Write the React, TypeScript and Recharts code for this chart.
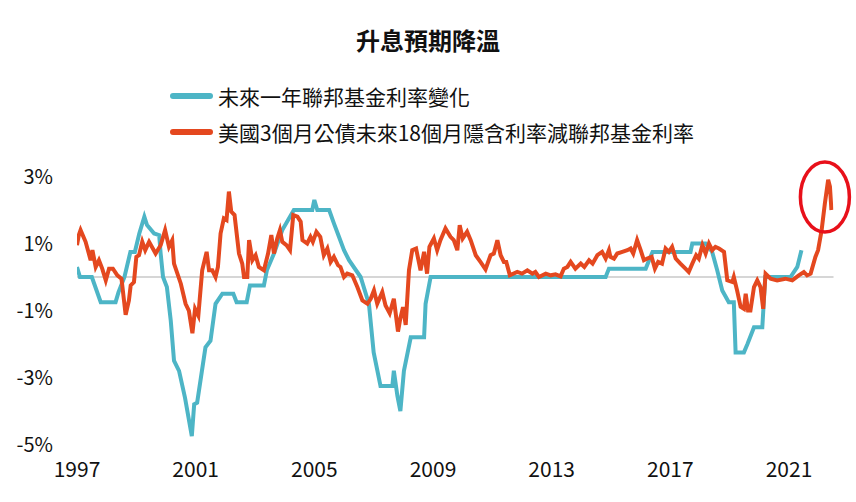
import { LineChart, Line, XAxis, YAxis, ReferenceLine, ReferenceDot } from "recharts";

const FONT = '"Noto Sans CJK TC", "Noto Sans", sans-serif';

const title = "升息預期降溫";
const fedName = "未來一年聯邦基金利率變化";
const spreadName = "美國3個月公債未來18個月隱含利率減聯邦基金利率";

const xTicks = [1997, 2001, 2005, 2009, 2013, 2017, 2021];
const yTicks = [3, 1, -1, -3, -5];

// change in fed funds rate over the following year (%)
const fedYears = [
  1997.0, 1997.1, 1997.5, 1997.8, 1998.3, 1998.4, 1998.6, 1998.8, 1998.95, 1999.1,
  1999.27, 1999.36, 1999.6, 1999.77, 1999.82, 1999.9, 2000.03, 2000.16, 2000.27, 2000.44,
  2000.64, 2000.87, 2000.95, 2001.05, 2001.33, 2001.5, 2001.67, 2001.9, 2002.27, 2002.38,
  2002.72, 2002.83, 2003.3, 2003.4, 2003.64, 2003.92, 2004.31, 2004.93, 2005.0, 2005.1,
  2005.5, 2005.66, 2005.83, 2006.0, 2006.17, 2006.56, 2006.84, 2007.0, 2007.23, 2007.63,
  2007.68, 2007.8, 2007.9, 2008.02, 2008.25, 2008.7, 2008.75, 2008.92, 2014.82, 2014.93,
  2016.17, 2016.4, 2017.68, 2017.74, 2018.19, 2018.41, 2018.58, 2018.75, 2018.97, 2019.14,
  2019.2, 2019.48, 2019.6, 2019.82, 2020.1, 2020.2, 2021.05, 2021.28, 2021.42,
];
const fedChange = [
  0.3, 0.0, 0.0, -0.75, -0.75, -0.45, 0.0, 0.75, 0.75, 1.3,
  1.8, 1.55, 1.3, 1.25, 0.7, 0.0, -0.3, -1.3, -2.5, -2.8,
  -3.6, -4.75, -3.8, -3.75, -2.1, -1.9, -0.8, -0.5, -0.5, -0.75,
  -0.75, -0.25, -0.25, 0.2, 0.7, 1.4, 2.0, 2.0, 2.3, 2.0,
  2.0, 1.6, 1.2, 0.8, 0.5, 0.0, -0.8, -2.25, -3.25, -3.25,
  -2.8, -3.55, -4.0, -2.8, -1.8, -1.8, -0.8, 0.0, 0.0, 0.25,
  0.25, 0.75, 0.75, 1.0, 1.0, 0.75, 0.2, -0.4, -0.75, -0.75,
  -2.25, -2.25, -2.0, -1.5, -1.5, 0.0, 0.0, 0.3, 0.8,
];

// implied 3m T-bill rate 18 months ahead minus fed funds rate (%)
const spreadYears = [
  1997.0, 1997.06, 1997.12, 1997.29, 1997.46, 1997.52, 1997.63, 1997.74, 1997.85, 1997.97,
  1998.08, 1998.21, 1998.36, 1998.5, 1998.64, 1998.75, 1998.81, 1998.92, 1999.0, 1999.09,
  1999.2, 1999.3, 1999.43, 1999.65, 1999.82, 1999.97, 2000.1, 2000.21, 2000.27, 2000.5,
  2000.66, 2000.77, 2000.89, 2000.98, 2001.09, 2001.22, 2001.37, 2001.45, 2001.56, 2001.67,
  2001.75, 2001.84, 2001.95, 2002.04, 2002.12, 2002.2, 2002.31, 2002.46, 2002.57, 2002.63,
  2002.74, 2002.8, 2002.91, 2003.02, 2003.13, 2003.3, 2003.44, 2003.55, 2003.64, 2003.75,
  2003.84, 2003.92, 2004.06, 2004.18, 2004.29, 2004.43, 2004.54, 2004.6, 2004.76, 2004.87,
  2004.95, 2005.07, 2005.2, 2005.32, 2005.44, 2005.55, 2005.66, 2005.8, 2005.88, 2006.0,
  2006.11, 2006.28, 2006.45, 2006.62, 2006.79, 2006.9, 2007.01, 2007.12, 2007.29, 2007.4,
  2007.54, 2007.68, 2007.82, 2007.9, 2007.99, 2008.08, 2008.19, 2008.3, 2008.43, 2008.58,
  2008.7, 2008.8, 2008.88, 2009.03, 2009.14, 2009.25, 2009.42, 2009.59, 2009.7, 2009.82,
  2009.9, 2010.0, 2010.15, 2010.27, 2010.44, 2010.6, 2010.77, 2010.94, 2011.05, 2011.17,
  2011.28, 2011.39, 2011.47, 2011.59, 2011.84, 2012.0, 2012.18, 2012.35, 2012.45, 2012.57,
  2012.8, 2012.97, 2013.13, 2013.3, 2013.41, 2013.53, 2013.64, 2013.8, 2013.98, 2014.1,
  2014.26, 2014.38, 2014.54, 2014.7, 2014.82, 2014.93, 2014.98, 2015.1, 2015.21, 2015.38,
  2015.55, 2015.66, 2015.75, 2015.88, 2016.0, 2016.11, 2016.22, 2016.37, 2016.48, 2016.59,
  2016.72, 2016.84, 2016.95, 2017.06, 2017.18, 2017.34, 2017.51, 2017.62, 2017.74, 2017.87,
  2017.96, 2018.08, 2018.19, 2018.3, 2018.41, 2018.52, 2018.64, 2018.81, 2018.92, 2019.09,
  2019.14, 2019.25, 2019.37, 2019.48, 2019.54, 2019.62, 2019.7, 2019.82, 2019.93, 2020.04,
  2020.13, 2020.21, 2020.38, 2020.6, 2020.88, 2021.11, 2021.33, 2021.5, 2021.61, 2021.73,
  2021.89, 2021.98, 2022.1, 2022.21, 2022.32, 2022.38, 2022.43,
];
const spreadValues = [
  0.95, 1.25, 1.4, 1.05, 0.5, 0.8, 0.3, 0.5, 0.25, -0.1,
  0.25, 0.25, 0.05, -0.05, -1.13, -0.7, -0.25, -0.15, 0.6, 0.65,
  1.05, 0.8, 1.05, 0.7, 0.95, 1.4, 0.9, 1.1, 0.4, -0.2,
  -0.8, -1.0, -1.68, -0.95, -1.15, 0.2, 0.75, 0.2, 0.2, 0.0,
  0.3, 1.3, 1.75, 1.7, 2.55, 1.95, 1.85, 0.7, 0.4, 0.0,
  0.0, 1.1, 0.5, 0.65, 0.3, 0.2, 0.7, 1.25, 0.7, 1.15,
  1.4, 1.05, 0.95, 0.8, 1.85, 1.8, 1.65, 1.1, 1.0, 1.2,
  1.05, 1.35, 1.2, 0.65, 0.85, 0.45, 0.6, 0.35, 0.3, 0.0,
  0.1, 0.05, -0.3, -0.7, -0.8, -0.65, -0.4, -0.8, -0.45, -0.85,
  -1.08, -0.65, -1.63, -1.23, -0.9, -1.43, 0.2, 0.8, 0.85, 0.2,
  0.75, 0.1, 0.9, 1.15, 0.8, 1.1, 1.45, 1.2, 1.1, 0.8,
  1.55, 1.15, 1.35, 1.1, 0.65, 0.45, 0.23, 0.65, 0.7, 1.1,
  0.65, 0.45, 0.45, 0.05, 0.15, 0.1, 0.2, 0.1, 0.15, 0.0,
  0.1, 0.05, 0.08, 0.02, 0.25, 0.3, 0.45, 0.25, 0.4, 0.3,
  0.5, 0.4, 0.65, 0.75, 0.55, 0.8, 0.6, 0.55, 0.7, 0.75,
  0.8, 0.85, 0.7, 1.1, 0.8, 0.5, 0.55, 0.6, 0.25, 0.45,
  0.4, 0.85, 0.75, 0.9, 0.55, 0.4, 0.25, 0.15, 0.4, 0.65,
  0.55, 0.95, 0.7, 1.0, 0.8, 0.9, 0.85, 0.75, -0.1, -0.15,
  0.0, -0.4, -0.89, -0.95, -0.5, -1.0, -1.0, -0.3, -0.1, -0.3,
  -0.95, 0.1, -0.05, -0.1, -0.05, -0.1, 0.05, 0.15, 0.05, 0.1,
  0.6, 0.8, 1.4, 2.2, 2.9, 2.7, 2.0,
];

// highlighted spike
const circleAt = { x: 2022.21, y: 2.39 };

const fedData = fedYears.map((x, i) => ({ x, v: fedChange[i] }));
const spreadData = spreadYears.map((x, i) => ({ x, v: spreadValues[i] }));

const TEAL = "#4db5c6";
const RED = "#e4481f";

function LegendRow({ color, label }: { color: string; label: string }) {
  return (
    <div style={{ display: "flex", alignItems: "center", height: 36 }}>
      <div style={{ width: 43, height: 6, borderRadius: 3, background: color, marginRight: 5 }} />
      <span style={{ fontSize: 21, color: "#111", whiteSpace: "nowrap" }}>{label}</span>
    </div>
  );
}

export default function App() {
  return (
    <div
      style={{
        position: "absolute",
        left: 0,
        top: 0,
        width: 856,
        height: 502,
        background: "#fff",
        fontFamily: FONT,
      }}
    >
      <div
        style={{
          position: "absolute",
          top: 22,
          left: 0,
          width: 856,
          textAlign: "center",
          fontSize: 24,
          fontWeight: 700,
          color: "#111",
        }}
      >
        {title}
      </div>
      <div style={{ position: "absolute", top: 78, left: 170 }}>
        <LegendRow color={TEAL} label={fedName} />
        <LegendRow color={RED} label={spreadName} />
      </div>
      <LineChart
        width={856}
        height={502}
        margin={{ top: 176.5, right: 22.5, bottom: 17.5, left: 17 }}
      >
        <XAxis
          dataKey="x"
          type="number"
          domain={[1997, 2022.5]}
          ticks={xTicks}
          axisLine={false}
          tickLine={false}
          tickSize={0}
          tickMargin={18}
          height={40}
          tick={{ fontSize: 21, fill: "#111", fontFamily: FONT }}
          allowDataOverflow
        />
        <YAxis
          type="number"
          domain={[-5, 3]}
          ticks={yTicks}
          axisLine={false}
          tickLine={false}
          tickSize={0}
          tickMargin={24}
          width={60}
          tickFormatter={(v) => `${v}%`}
          tick={{ fontSize: 20, fill: "#111", fontFamily: FONT }}
        />
        <ReferenceLine y={0} stroke="#c8c8c8" strokeWidth={1.5} />
        <Line
          data={fedData}
          dataKey="v"
          name={fedName}
          type="linear"
          stroke={TEAL}
          strokeWidth={4}
          dot={false}
          isAnimationActive={false}
        />
        <Line
          data={spreadData}
          dataKey="v"
          name={spreadName}
          type="linear"
          stroke={RED}
          strokeWidth={4}
          dot={false}
          isAnimationActive={false}
        />
        <ReferenceDot
          x={circleAt.x}
          y={circleAt.y}
          shape={(p: any) => (
            <ellipse
              cx={p.cx}
              cy={p.cy}
              rx={24.5}
              ry={35}
              fill="none"
              stroke="#e8101a"
              strokeWidth={3.5}
            />
          )}
        />
      </LineChart>
    </div>
  );
}
